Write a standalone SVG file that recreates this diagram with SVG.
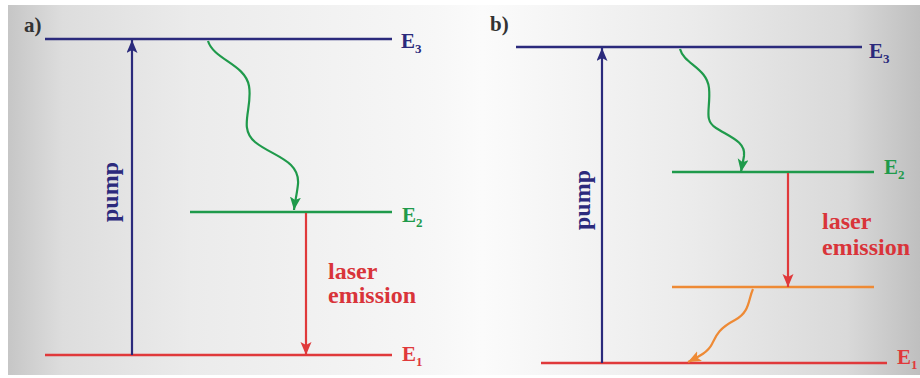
<svg xmlns="http://www.w3.org/2000/svg" width="920" height="378" viewBox="0 0 920 378">
<defs>
<linearGradient id="bg" x1="8" y1="0" x2="920" y2="0" gradientUnits="userSpaceOnUse">
<stop offset="0" stop-color="#c6c6c6"/>
<stop offset="0.06" stop-color="#dddddd"/>
<stop offset="0.2" stop-color="#ebebeb"/>
<stop offset="0.47" stop-color="#f7f7f7"/>
<stop offset="0.52" stop-color="#fbfbfb"/>
<stop offset="0.75" stop-color="#ebebeb"/>
<stop offset="0.92" stop-color="#d9d9d9"/>
<stop offset="1" stop-color="#bfbfbf"/>
</linearGradient>
<marker id="ah-navy" markerUnits="userSpaceOnUse" markerWidth="14" markerHeight="12" refX="13" refY="5.5" orient="auto"><path d="M0,0 L13,5.5 L0,11 L3,5.5 z" fill="#2b2a7c"/></marker>
<marker id="ah-green" markerUnits="userSpaceOnUse" markerWidth="14" markerHeight="12" refX="13" refY="5.5" orient="auto"><path d="M0,0 L13,5.5 L0,11 L3,5.5 z" fill="#1f9a4b"/></marker>
<marker id="ah-red" markerUnits="userSpaceOnUse" markerWidth="14" markerHeight="12" refX="13" refY="5.5" orient="auto"><path d="M0,0 L13,5.5 L0,11 L3,5.5 z" fill="#e0393b"/></marker>
<marker id="ah-orange" markerUnits="userSpaceOnUse" markerWidth="14" markerHeight="12" refX="13" refY="5.5" orient="auto"><path d="M0,0 L13,5.5 L0,11 L3,5.5 z" fill="#ee8a35"/></marker>
</defs>
<style>
.lvl{stroke-width:2.5;fill:none}
.navy{stroke:#2b2a7c}
.green{stroke:#1f9a4b}
.red{stroke:#e0393b}
.orange{stroke:#ee8a35}
.conn{fill:none;stroke-width:2.2}
.lab{font-size:21px}
.sub{font-size:13px}
.em{font-size:24px;fill:#d9343a}
.pump{font-size:24px;fill:#2b2a7c}
.panel{font-size:21px;fill:#333333}
</style>
<rect x="0" y="0" width="920" height="378" fill="#ffffff"/>
<rect x="8" y="5" width="912" height="370" fill="url(#bg)"/>

<g font-family="'Liberation Serif', 'DejaVu Serif', 'Times New Roman', serif" font-weight="bold">
<text class="panel" x="24" y="32">a)</text>
<text class="panel" x="490" y="31">b)</text>
</g>

<g id="a-E3" font-family="'Liberation Serif', 'DejaVu Serif', 'Times New Roman', serif" font-weight="bold">
<line class="lvl navy" x1="45" y1="39" x2="392" y2="39"/>
<text class="lab" x="401" y="48" fill="#2b2a7c">E<tspan class="sub" dy="5">3</tspan></text>
</g>
<g id="a-E2" font-family="'Liberation Serif', 'DejaVu Serif', 'Times New Roman', serif" font-weight="bold">
<line class="lvl green" x1="190" y1="212" x2="392" y2="212"/>
<text class="lab" x="402" y="222" fill="#1f9a4b">E<tspan class="sub" dy="5">2</tspan></text>
</g>
<g id="a-E1" font-family="'Liberation Serif', 'DejaVu Serif', 'Times New Roman', serif" font-weight="bold">
<line class="lvl red" x1="45" y1="355" x2="392" y2="355"/>
<text class="lab" x="402" y="361" fill="#e0393b">E<tspan class="sub" dy="5">1</tspan></text>
</g>

<g id="b-E3" font-family="'Liberation Serif', 'DejaVu Serif', 'Times New Roman', serif" font-weight="bold">
<line class="lvl navy" x1="516" y1="47" x2="862" y2="47"/>
<text class="lab" x="869" y="58" fill="#2b2a7c">E<tspan class="sub" dy="5">3</tspan></text>
</g>
<g id="b-E2" font-family="'Liberation Serif', 'DejaVu Serif', 'Times New Roman', serif" font-weight="bold">
<line class="lvl green" x1="672" y1="172" x2="874" y2="172"/>
<text class="lab" x="884" y="174" fill="#1f9a4b">E<tspan class="sub" dy="5">2</tspan></text>
</g>
<g id="b-lower">
<line class="lvl orange" x1="672" y1="287" x2="874" y2="287"/>
</g>
<g id="b-E1" font-family="'Liberation Serif', 'DejaVu Serif', 'Times New Roman', serif" font-weight="bold">
<line class="lvl red" x1="541" y1="363" x2="887" y2="363"/>
<text class="lab" x="897" y="364" fill="#e0393b">E<tspan class="sub" dy="5">1</tspan></text>
</g>

<g id="connectors">
<line class="conn navy" x1="132" y1="355" x2="132" y2="40" marker-end="url(#ah-navy)"/>
<path class="conn green" d="M208,41 C214,60 245,64 249,86 C253,108 238,128 255,142 C272,156 300,160 298,184 C297,194 295,201 294,210" marker-end="url(#ah-green)"/>
<line class="conn red" x1="306" y1="213" x2="306" y2="355" marker-end="url(#ah-red)"/>
<line class="conn navy" x1="602" y1="363" x2="602" y2="48" marker-end="url(#ah-navy)"/>
<path class="conn green" d="M680,49 C684,64 707,68 709,88 C711,108 703,120 716,128 C730,137 746,142 744,156 C743,162 742,166 741,172" marker-end="url(#ah-green)"/>
<line class="conn red" x1="788" y1="173" x2="788" y2="287" marker-end="url(#ah-red)"/>
<path class="conn orange" d="M753,289 C748,300 750,312 735,320 C718,329 716,336 712,344 C708,352 700,356 688,362" marker-end="url(#ah-orange)"/>
</g>

<g id="labels" font-family="'Liberation Serif', 'DejaVu Serif', 'Times New Roman', serif" font-weight="bold">
<text class="pump" transform="translate(118,192) rotate(-90)" text-anchor="middle">pump</text>
<text class="pump" transform="translate(590,200) rotate(-90)" text-anchor="middle">pump</text>
<text class="em" x="328" y="279">laser</text>
<text class="em" x="328" y="303">emission</text>
<text class="em" x="822" y="229">laser</text>
<text class="em" x="822" y="255">emission</text>
</g>
</svg>
